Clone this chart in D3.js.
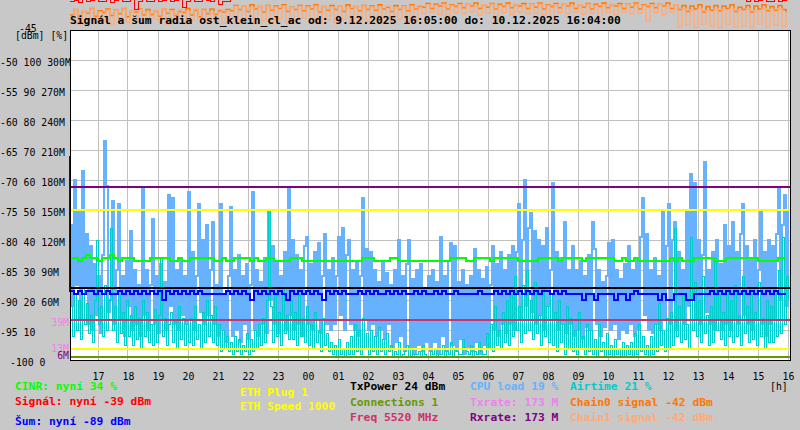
<!DOCTYPE html>
<html>
<head>
<meta charset="utf-8">
<script src="https://cdn.jsdelivr.net/npm/d3@7"></script>
<style>
  body { margin: 0; background: #c8c8c8; }
  svg { display: block; }
  text { font-family: "DejaVu Sans Mono", monospace; white-space: pre; }
</style>
</head>
<body>
<div id="chart"></div>
<script>
// Time span of the graph
const startTime = new Date(2025, 11, 9, 16, 5);
const endTime = new Date(2025, 11, 10, 16, 5);

// Hour tick labels (17:00 ... 16:00)
const hourLabels = ["17","18","19","20","21","22","23","00","01","02","03","04",
                    "05","06","07","08","09","10","11","12","13","14","15","16"];

// Left axis columns
const dbmTicks = [-50, -55, -60, -65, -70, -75, -80, -85, -90, -95, -100];
const pctTicks = [100, 90, 80, 70, 60, 50, 40, 30, 20, 10, 0];
const rateTicks = [300, 270, 240, 210, 180, 150, 120, 90, 60, null, null];
const minTxrateLabels = [39, 13];
const minRxrateLabels = [6];

// Current values shown in the legend
const cinrNow = 34, signalNow = -39, noiseNow = -89;
const ethPlug = 1, ethSpeed = 1000;
const txPower = 24, connections = 1, freq = 5520;
const cpuNow = 19, txrateNow = 173, rxrateNow = 173;
const airtimeNow = 21, chain0Now = -42, chain1Now = -42;

// Level of the constant lines (rate axis in M)
const ethSpeedLevel = 150;
const ethPlugLevel = 11;
const freqLevel = 40;

// CPU load [%], one value every 4 minutes
const cpuLoad = [
  45,18,60,25,50,14,63,24,42,12, 38,10,32,15,28,9,35,73,58,16,
  20,53,12,30,52,14,28,8,33,18, 43,10,30,12,25,8,57,15,30,10,
  25,47,12,28,9,32,14,26,10,55, 18,54,12,30,10,34,15,28,12,56,
  14,36,10,28,52,16,40,12,45,15, 30,46,12,25,8,52,10,22,6,28,
  51,8,30,10,35,6,28,12,32,7, 25,56,10,30,8,26,12,34,9,50,
  20,38,12,33,9,28,14,36,10,57, 15,40,10,35,12,30,8,38,41,12,
  32,10,36,14,39,9,28,42,12,30, 10,34,12,28,41,15,44,10,35,40,
  12,30,10,33,8,28,54,14,37,10, 36,12,30,8,26,10,33,7,29,12,
  25,4,30,6,40,8,28,3,32,40, 4,27,2,30,5,32,3,24,6,28,
  3,30,6,26,2,41,8,28,3,33, 39,5,38,3,26,7,30,2,25,4,
  28,3,37,6,30,2,27,5,31,4, 25,38,10,32,8,36,12,30,9,35,
  12,38,10,36,52,14,40,60,18,44, 49,16,43,12,40,15,38,10,44,18,
  30,59,14,36,10,34,12,46,9,30, 12,38,8,30,10,33,7,28,11,35,
  10,46,37,12,30,8,26,11,28,39, 10,40,12,30,7,27,10,32,9,38,
  12,30,8,34,10,41,54,15,42,10, 30,9,34,12,28,10,50,14,38,52,
  12,40,46,10,36,14,30,12,50,18, 62,20,59,14,40,12,35,66,16,30,
  12,36,10,40,14,32,10,45,12,38, 10,46,14,36,12,42,52,15,38,12,
  34,10,40,14,30,50,12,36,8,40, 12,38,14,42,57,20,45,55,18,50
];

// Airtime [%], one value every 4 minutes
const airtime = [
  18,8,22,10,20,7,24,12,19,9, 15,6,20,40,12,18,8,25,10,20,
  44,10,18,6,22,9,16,5,20,8, 15,5,18,7,14,4,20,8,16,6,
  12,5,17,6,15,34,8,14,5,12, 16,6,13,4,18,7,14,5,12,6,
  14,5,18,7,12,4,16,6,20,8, 15,6,18,5,12,3,10,4,8,3,
  6,2,8,3,7,2,5,3,9,2, 7,3,10,4,12,5,14,6,20,50,
  18,6,22,8,16,5,24,9,15,7, 20,7,16,5,22,8,14,6,18,5,
  12,4,16,6,10,3,14,5,9,3, 6,2,5,1,7,2,4,1,6,2,
  8,2,12,3,10,2,14,4,9,2, 10,3,8,2,11,3,7,2,9,3,
  5,1,3,2,6,1,2,3,5,1, 4,1,2,2,3,1,5,2,1,1,
  3,2,4,1,2,2,5,1,3,2, 6,1,4,3,2,2,7,4,3,2,
  5,1,3,2,6,3,2,2,9,4, 12,3,18,5,10,4,16,6,20,5,
  22,8,28,10,18,6,25,9,30,10, 20,7,26,9,15,5,24,8,18,6,
  22,5,16,3,20,6,12,2,18,4, 14,3,10,2,16,4,8,2,12,3,
  10,2,7,1,12,3,6,1,9,2, 5,1,7,2,4,1,6,1,5,2,
  6,1,9,2,12,3,8,2,5,1, 8,2,12,3,19,5,10,3,14,4,
  16,5,44,8,18,6,22,7,12,4, 41,10,26,8,20,6,28,9,15,5,
  18,6,34,10,22,7,16,5,24,8, 20,6,25,8,15,5,28,9,18,6,
  22,7,16,5,26,8,14,4,20,6, 18,6,24,8,30,9,41,12,28,20
];

// CINR [%], one value every 8 minutes
const cinr = [
  34,34,33,34,35,34,34,33,34,34,35,34,33,34,34,34,33,33,33,33,
  34,34,34,34,34,33,33,34,33,33,34,34,34,34,34,34,33,33,34,33,
  33,34,34,34,34,33,34,33,33,34,34,33,33,33,33,34,34,34,33,33,
  33,33,33,33,33,33,33,33,33,33,33,33,33,34,34,34,33,33,33,33,
  34,34,33,33,33,33,33,33,33,33,33,33,33,33,33,34,34,34,34,33,
  33,34,34,34,34,33,34,34,34,34,34,34,33,33,33,33,33,34,34,34,
  34,34,33,34,34,34,34,34,33,34,34,34,34,34,34,34,33,33,34,33,
  33,34,33,33,33,33,33,33,33,33,34,33,34,33,33,33,34,34,34,34,
  34,33,33,33,34,34,34,34,34,34,34,34,33,33,33,33,33,34,34,34
];

// Noise (Šum) [dBm], one value every 8 minutes
const noise = [
  -66,-88.5,-89,-88.5,-89,-88.5,-88.5,-89,-88.5,-89,-88.5,-89,-89,-88.5,-89,-88.5,-89,-88.5,-89,-88.5,
  -89,-88.5,-89,-88.5,-90,-88.5,-89,-88.5,-89,-88.5,-89,-88.5,-89,-88.5,-89,-89,-89,-89,-89,-89,
  -88.5,-89,-88.5,-89,-88.5,-89,-90,-88.5,-89,-88.5,-89,-88.5,-89,-88.5,-89,-90,-88.5,-89,-88.5,-89,
  -88.5,-89,-88.5,-89,-90,-88.5,-89,-88.5,-89,-88.5,-89,-89,-89,-88.5,-89,-88.5,-89,-88.5,-89,-89,
  -88.5,-89,-88.5,-89,-88.5,-89,-89,-88.5,-89,-88.5,-89,-89,-88.5,-89,-88.5,-89,-89,-88.5,-89,-89,
  -89,-89,-89,-88.5,-89,-89,-89,-88.5,-89,-88.5,-89,-88.5,-89,-88.5,-89,-88.5,-89,-88.5,-89,-88.5,
  -88.5,-89,-88.5,-89,-88.5,-89,-89,-89,-89,-90,-89,-89,-90,-89,-89,-89,-89,-90,-89,-89,
  -90,-89,-88.5,-89,-89,-89,-89,-89,-90,-89,-90,-90,-89,-89,-89,-90,-90,-89,-89,-89,
  -89,-88.5,-89,-88.5,-89,-88.5,-89,-88.5,-89,-88.5,-89,-88.5,-89,-88.5,-89,-88.5,-89,-88.5,-89,-89
];

// Signal [dBm], one value every 8 minutes (mostly above the plot top)
const signal = [
  -40.3,-40.0,-40.4,-39.7,-40.3,-40.1,-39.7,-40.3,-40.2,-39.7,-40.4,-40.0,-39.7,-40.3,-40.2,-39.7,-41.5,-40.3,-39.8,-40.2,
  -40.3,-39.7,-40.2,-40.0,-39.7,-40.3,-40.1,-39.7,-41.2,-40.3,-39.8,-40.2,-40.3,-39.7,-40.1,-40.3,-39.7,-40.8,-40.2,-40.3,
  -39,-39,-39,-39,-39,-39,-39,-39,-39,-39,-39,-39,-39,-39,-39,-39,-39,-39,-39,-39,
  -39,-39,-39,-39,-39,-39,-39,-39,-39,-39,-39,-39,-39,-39,-39,-39,-39,-39,-39,-39,
  -39,-39,-39,-39,-39,-39,-39,-39,-39,-39,-39,-39,-39,-39,-39,-39,-39,-39,-39,-39,
  -39,-39,-39,-39,-39,-39,-39,-39,-39,-39,-39,-39,-39,-39,-39,-39,-39,-39,-39,-39,
  -39,-39,-39,-39,-39,-39,-39,-39,-39,-39,-39,-39,-39,-39,-39,-39,-39,-39,-39,-39,
  -39,-39,-39,-39,-39,-39,-39,-39,-39,-39,-39,-39,-39,-39,-39,-39,-39,-39,-39,-39,
  -39,-39,-39,-39,-39,-39,-39,-39,-39,-40.2,-39.7,-40.3,-40.0,-39.7,-40.3,-40.2,-39.7,-40.3,-40.1,-39.6
];

// Chain0 signal [dBm], one value every 8 minutes
const chain0 = [
  -42.5,-41.6,-42.8,-41.9,-42.2,-41.4,-42.7,-41.8,-42.1,-41.5,-42.6,-41.7,-42.3,-41.4,-42.8,-41.9,-42.0,-41.5,-42.5,-41.6,
  -42.4,-41.8,-42.7,-41.5,-42.2,-41.6,-42.6,-41.9,-42.1,-41.4,-42.5,-41.7,-42.8,-41.6,-42.3,-41.5,-42.4,-41.8,-42.0,-41.6,
  -41.8,-40.9,-41.6,-41.0,-41.9,-40.8,-41.5,-41.1,-42.0,-40.9,-41.7,-41.0,-41.4,-40.8,-41.9,-41.2,-41.6,-40.9,-41.8,-41.0,
  -41.5,-40.8,-42.0,-41.1,-41.7,-40.9,-41.6,-41.0,-41.9,-40.8,-41.4,-41.1,-41.8,-40.9,-41.6,-41.0,-41.7,-40.8,-41.5,-41.2,
  -41.9,-40.9,-41.6,-41.0,-41.8,-40.8,-41.5,-41.1,
  -41.2,-40.6,-41.4,-40.7,-41.0,-40.5,-41.5,-40.8,-41.1,-40.6,-41.3,-40.7,-41.0,-40.5,-41.4,-40.8,-41.2,-40.6,-41.5,-40.7,
  -41.1,-40.5,-41.3,-40.8,-41.0,-40.6,-41.4,-40.7,-41.2,-40.5,-41.5,-40.8,-41.1,-40.6,-41.3,-40.7,-41.0,-40.5,-41.4,-40.8,
  -41.2,-40.6,-41.5,-40.7,-41.1,-40.5,-41.3,-40.8,-41.0,-40.6,-41.4,-40.7,-41.2,-40.5,-41.5,-40.8,-41.1,-40.6,-41.3,-40.7,
  -41.0,-40.5,-41.4,-40.8,
  -41.6,-40.9,-41.9,-41.0,-41.5,-40.8,-42.0,-41.1,-41.7,-40.9,-41.8,-41.0,-41.4,-40.8,-41.9,-41.2,-41.6,-40.9,-42.0,-41.0,
  -41.5,-40.8,-41.8,-41.1,-41.7,-40.9,-41.6,-42.0
];

// Chain1 signal [dBm], one value every 8 minutes
const chain1 = [
  -43.5,-41.6,-44.0,-41.9,-43.2,-41.5,-43.8,-42.0,-43.4,-41.7,-44.1,-41.8,-43.0,-41.5,-43.7,-41.9,-43.3,-41.6,-43.9,-42.0,
  -43.1,-41.7,-43.6,-41.5,-44.0,-41.8,-43.2,-41.6,-43.8,-41.9,-43.4,-41.5,-43.0,-41.7,-43.7,-42.0,-43.5,-41.6,-43.9,-41.8,
  -43.6,-41.1,-43.8,-41.0,-43.2,-41.3,-43.9,-41.1,-43.4,-41.0,-43.7,-41.2,-43.1,-41.0,-43.8,-41.3,-43.5,-41.1,-43.0,-41.2,
  -43.6,-41.0,-43.9,-41.1,-43.3,-41.2,-43.7,-41.0,-43.2,-41.3,-43.8,-41.1,-43.4,-41.0,-43.6,-41.2,-43.1,-41.1,-43.9,-41.0,
  -43.5,-41.3,-43.2,-41.1,-43.7,-41.0,-43.4,-41.2,
  -42.3,-40.8,-42.0,-40.9,-42.4,-40.7,-43.5,-40.9,-42.1,-40.8,-42.3,-40.7,-42.0,-40.9,-42.5,-40.8,-42.2,-40.7,-43.4,-40.9,
  -42.1,-40.8,-42.4,-40.7,-42.0,-40.9,-42.3,-40.8,-42.2,-40.7,-42.5,-40.9,-43.6,-40.8,-42.1,-40.7,-42.3,-40.9,-42.0,-40.8,
  -42.4,-40.7,-42.2,-40.9,-43.3,-40.8,-42.1,-40.7,-42.5,-40.9,-42.0,-40.8,-42.3,-40.7,-42.2,-40.9,-43.5,-40.8,-42.1,-40.7,
  -42.4,-40.9,-42.0,-40.8,
  -44.5,-41.5,-44.2,-41.7,-44.6,-41.4,-44.0,-41.8,-44.4,-41.5,-44.6,-41.6,-44.1,-41.4,-44.5,-41.7,-44.3,-41.5,-44.6,-41.8,
  -44.0,-41.4,-44.5,-41.6,-44.2,-41.5,-44.4,-42.0
];

const COLORS = {
    BG: "#c8c8c8",
    GRID: "#c0c0c0",
    CINR: "#00ff00",
    SIGNAL: "#ff0000",
    NOISE: "#0000ff",
    ETH: "#ffff00",
    TXPOWER: "#000000",
    CONNECTIONS: "#669900",
    FREQ: "#cc3366",
    CPU: "#66b2ff",
    TXRATE: "#ee82ee",
    RXRATE: "#800080",
    AIRTIME: "#00cccc",
    CHAIN0: "#ff7700",
    CHAIN1: "#ffaa77",
};

const width = 800, height = 430;
const plot = { left: 70, right: 790, top: 30, bottom: 360 };

const svg = d3.select("#chart").append("svg")
    .attr("width", width)
    .attr("height", height);

svg.append("rect").attr("width", width).attr("height", height).attr("fill", COLORS.BG);

// Scales
const x = d3.scaleTime().domain([startTime, endTime]).range([plot.left, plot.right]);
const yDbm = d3.scaleLinear().domain([-100, -45]).range([plot.bottom, plot.top]);
const yPct = d3.scaleLinear().domain([0, 100]).range([plot.bottom, 60]);
const yRate = d3.scaleLinear().domain([0, 300]).range([plot.bottom, 60]);

// Time of the i-th sample for a series sampled every stepMin minutes
function timeAt(i, stepMin) {
    return new Date(startTime.getTime() + i * stepMin * 60000);
}

// Plot background
svg.append("rect")
    .attr("x", plot.left).attr("y", plot.top)
    .attr("width", plot.right - plot.left).attr("height", plot.bottom - plot.top)
    .attr("fill", "#ffffff");

// Grid
const hourTimes = hourLabels.map((d, i) => new Date(2025, 11, 9, 17 + i, 0));
const grid = svg.append("g").attr("shape-rendering", "crispEdges");
grid.selectAll(".vgrid")
    .data(hourTimes)
    .enter()
    .append("line")
    .attr("x1", d => Math.round(x(d)) + 0.5).attr("x2", d => Math.round(x(d)) + 0.5)
    .attr("y1", plot.top).attr("y2", plot.bottom)
    .attr("stroke", COLORS.GRID);
grid.selectAll(".hgrid")
    .data(dbmTicks.slice(0, -1))
    .enter()
    .append("line")
    .attr("x1", plot.left).attr("x2", plot.right)
    .attr("y1", d => yDbm(d) + 0.5).attr("y2", d => yDbm(d) + 0.5)
    .attr("stroke", COLORS.GRID);

// Draws a stepped series
function drawSeries(values, stepMin, yScale, color, strokeWidth, curve = d3.curveStepAfter, crisp = true) {
    const line = d3.line()
        .x((d, i) => x(timeAt(i, stepMin)))
        .y(d => yScale(d))
        .curve(curve);
    svg.append("path")
        .datum(values)
        .attr("d", line)
        .attr("fill", "none")
        .attr("stroke", color)
        .attr("stroke-width", strokeWidth)
        .attr("shape-rendering", crisp ? "crispEdges" : "auto");
}

// Draws a constant level across the whole time range
function drawLevel(value, yScale, color, strokeWidth) {
    svg.append("line")
        .attr("x1", plot.left).attr("x2", plot.right)
        .attr("y1", yScale(value)).attr("y2", yScale(value))
        .attr("stroke", color)
        .attr("stroke-width", strokeWidth)
        .attr("shape-rendering", "crispEdges");
}

drawSeries(cpuLoad, 4, yPct, COLORS.CPU, 1.5);
drawSeries(airtime, 4, yPct, COLORS.AIRTIME, 1);

drawLevel(txrateNow, yRate, COLORS.TXRATE, 1.5);
drawLevel(rxrateNow, yRate, COLORS.RXRATE, 1.5);
drawLevel(ethSpeedLevel, yRate, COLORS.ETH, 2);
drawLevel(ethPlugLevel, yRate, COLORS.ETH, 1.5);
drawLevel(freqLevel, yRate, COLORS.FREQ, 1.5);
drawLevel(connections, yPct, COLORS.CONNECTIONS, 1.5);

drawSeries(cinr, 8, yPct, COLORS.CINR, 1.5);
drawLevel(txPower, yPct, COLORS.TXPOWER, 2);
drawSeries(noise, 8, yDbm, COLORS.NOISE, 2, d3.curveStepBefore);

// Antenna chains and signal run above the plot top
drawSeries(chain0, 8, yDbm, COLORS.CHAIN0, 1.5, d3.curveStepAfter, false);
drawSeries(chain1, 8, yDbm, COLORS.CHAIN1, 1.5, d3.curveStepAfter, false);
drawSeries(signal, 8, yDbm, COLORS.SIGNAL, 1);

// Frame
svg.append("rect")
    .attr("x", plot.left + 0.5).attr("y", plot.top + 0.5)
    .attr("width", plot.right - plot.left).attr("height", plot.bottom - plot.top)
    .attr("fill", "none")
    .attr("stroke", "#000")
    .attr("stroke-width", 1.5)
    .attr("shape-rendering", "crispEdges");

// Left axis labels
svg.selectAll(".ylabel")
    .data(dbmTicks)
    .enter()
    .append("text")
    .attr("x", (d) => d <= -100 ? 10 : 0)
    .attr("y", d => yDbm(d) + 5.5)
    .attr("font-size", "9.8px")
    .attr("fill", "#000")
    .text((d, i) => `${d} ${pctTicks[i]}` + (rateTicks[i] !== null ? ` ${rateTicks[i]}M` : ""));

svg.append("text").attr("x", 19).attr("y", 32).attr("font-size", "9.8px").text("-45");
svg.append("text").attr("x", 15).attr("y", 39).attr("font-size", "9.8px").text("[dBm] [%]");

svg.selectAll(".txmin")
    .data(minTxrateLabels)
    .enter()
    .append("text")
    .attr("x", 69).attr("y", d => yRate(d) + 4.5)
    .attr("text-anchor", "end")
    .attr("font-size", "9.8px")
    .attr("fill", COLORS.TXRATE)
    .text(d => d + "M");
svg.selectAll(".rxmin")
    .data(minRxrateLabels)
    .enter()
    .append("text")
    .attr("x", 69).attr("y", d => yRate(d) + 5)
    .attr("text-anchor", "end")
    .attr("font-size", "9.8px")
    .attr("fill", COLORS.RXRATE)
    .text(d => d + "M");

// Hour labels
svg.selectAll(".xlabel")
    .data(hourLabels)
    .enter()
    .append("text")
    .attr("x", (d, i) => x(hourTimes[i]) + 1)
    .attr("y", 380)
    .attr("text-anchor", "middle")
    .attr("font-size", "9.8px")
    .text(d => d);
svg.append("text").attr("x", 770).attr("y", 389.5).attr("font-size", "9.8px").text("[h]");

// Legend
const legend = [
    [15, 390, `CINR: nyní ${cinrNow} %`, COLORS.CINR],
    [15, 405, `Signál: nyní ${signalNow} dBm`, COLORS.SIGNAL],
    [15, 425, `Šum: nyní ${noiseNow} dBm`, COLORS.NOISE],
    [240, 396, `ETH Plug ${ethPlug}`, COLORS.ETH],
    [240, 410, `ETH Speed ${ethSpeed}`, COLORS.ETH],
    [350, 390, `TxPower ${txPower} dBm`, COLORS.TXPOWER],
    [350, 406, `Connections ${connections}`, COLORS.CONNECTIONS],
    [350, 421, `Freq ${freq} MHz`, COLORS.FREQ],
    [470, 390, `CPU load ${cpuNow} %`, COLORS.CPU],
    [470, 406, `Txrate: ${txrateNow} M`, COLORS.TXRATE],
    [470, 421, `Rxrate: ${rxrateNow} M`, COLORS.RXRATE],
    [570, 390, `Airtime ${airtimeNow} %`, COLORS.AIRTIME],
    [570, 406, `Chain0 signal ${chain0Now} dBm`, COLORS.CHAIN0],
    [570, 421, `Chain1 signal ${chain1Now} dBm`, COLORS.CHAIN1],
];
svg.selectAll(".legend")
    .data(legend)
    .enter()
    .append("text")
    .attr("x", d => d[0])
    .attr("y", d => d[1])
    .attr("font-size", "11.3px")
    .attr("font-weight", "bold")
    .attr("fill", d => d[3])
    .text(d => d[2]);

// Title
svg.append("text")
    .attr("x", 70).attr("y", 23.5)
    .attr("font-size", "11.3px")
    .attr("font-weight", "bold")
    .attr("fill", "#000")
    .text("Signál a šum radia ost_klein_cl_ac od: 9.12.2025 16:05:00 do: 10.12.2025 16:04:00");
</script>
</body>
</html>
